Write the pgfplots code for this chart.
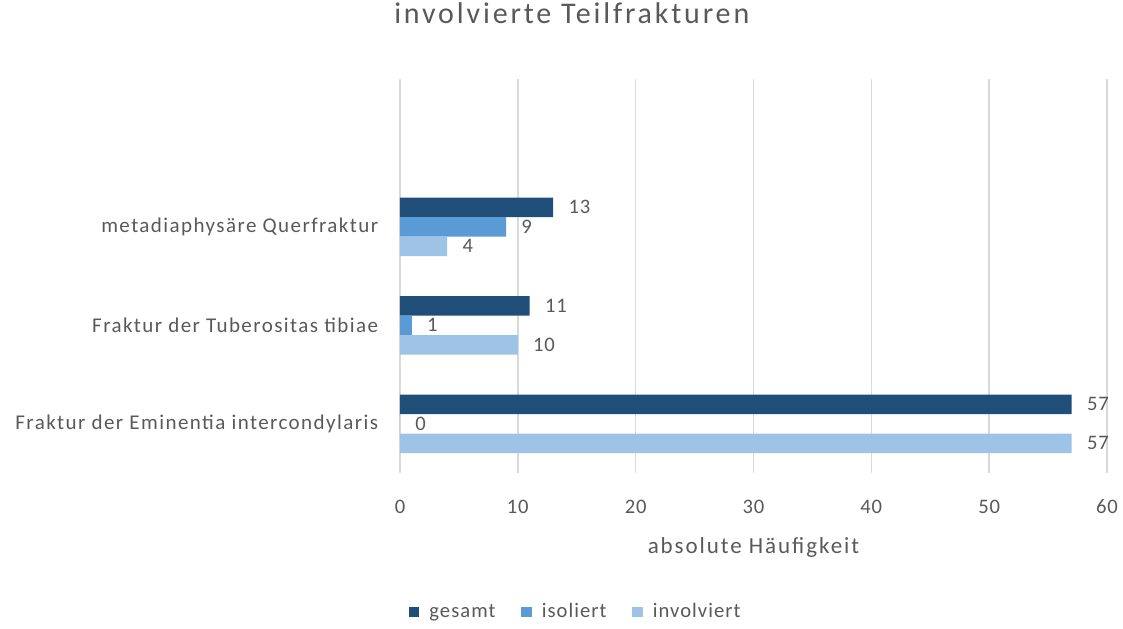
\documentclass[border=0pt]{standalone}
\usepackage{pgfplots}
\pgfplotsset{compat=1.18}
\usepackage{fontspec}
\setmainfont{Carlito}
\newfontfamily\catfont{Carlito}[LetterSpace=6.8]
\newfontfamily\titlefont{Carlito}[LetterSpace=9.5]
\newfontfamily\lblfont{Carlito}[LetterSpace=8.5]
\newfontfamily\numfont{Carlito}[LetterSpace=4]
\newfontfamily\legfont{Carlito}[LetterSpace=5]
\definecolor{cGes}{HTML}{1F4E79}
\definecolor{cIso}{HTML}{5B9BD5}
\definecolor{cInv}{HTML}{9DC3E6}
\definecolor{txt}{HTML}{595959}
\definecolor{gridc}{HTML}{D9D9D9}
\begin{document}
\begin{tikzpicture}
\path[use as bounding box] (-200pt,-77.5pt) rectangle (361.5pt,236.5pt);
\begin{axis}[
  at={(0,0)}, anchor=south west,
  scale only axis, width=353.5pt, height=197pt,
  xbar, bar width=9.75pt,
  xmin=0, xmax=60, xtick={0,10,...,60},
  ymin=-0.5, ymax=3.5, ytick={0,1,2},
  yticklabels={Fraktur der Eminentia intercondylaris, Fraktur der Tuberositas tibiae, metadiaphysäre Querfraktur},
  axis line style={draw=none}, tick style={draw=none},
  xmajorgrids, grid style={gridc, line width=0.8pt},
  /pgf/number format/assume math mode=true,
  ticklabel style={font=\numfont\fontsize{10.3}{12}\selectfont, text=txt},
  xticklabel style={anchor=center, yshift=-17pt},
  yticklabel style={anchor=east, inner sep=0pt, xshift=-6.5pt, font=\catfont\fontsize{10.5}{12}\selectfont},
  xlabel={absolute Häufigkeit},
  xlabel style={at={(axis description cs:0.5,-0.188)}, anchor=center, font=\lblfont\fontsize{11.5}{13}\selectfont, text=txt},
  title={involvierte Teilfrakturen},
  title style={at={(axis description cs:0.243,1.137)}, anchor=center, font=\titlefont\fontsize{15}{18}\selectfont, text=txt},
  nodes near coords,
  nodes near coords style={anchor=west, inner sep=0pt, xshift=7.5pt, font=\numfont\fontsize{10.3}{12}\selectfont, text=txt},
  legend columns=3,
  legend style={at={(axis description cs:0.25,-0.353)}, anchor=center, draw=none, font=\legfont\fontsize{10.3}{12}\selectfont, text=txt, /tikz/every odd column/.append style={column sep=3pt}, /tikz/every even column/.append style={column sep=11pt}},
  legend image code/.code={\fill[#1] (0pt,-2.6pt) rectangle (5.2pt,2.6pt);},
]
\addplot[fill=cGes, draw=none, bar shift=9.75pt] coordinates {(57,0) (11,1) (13,2)};
\addplot[fill=cIso, draw=none, bar shift=0pt] coordinates {(0,0) (1,1) (9,2)};
\addplot[fill=cInv, draw=none, bar shift=-9.75pt] coordinates {(57,0) (10,1) (4,2)};
\legend{gesamt, isoliert, involviert}
\end{axis}
\end{tikzpicture}
\end{document}
